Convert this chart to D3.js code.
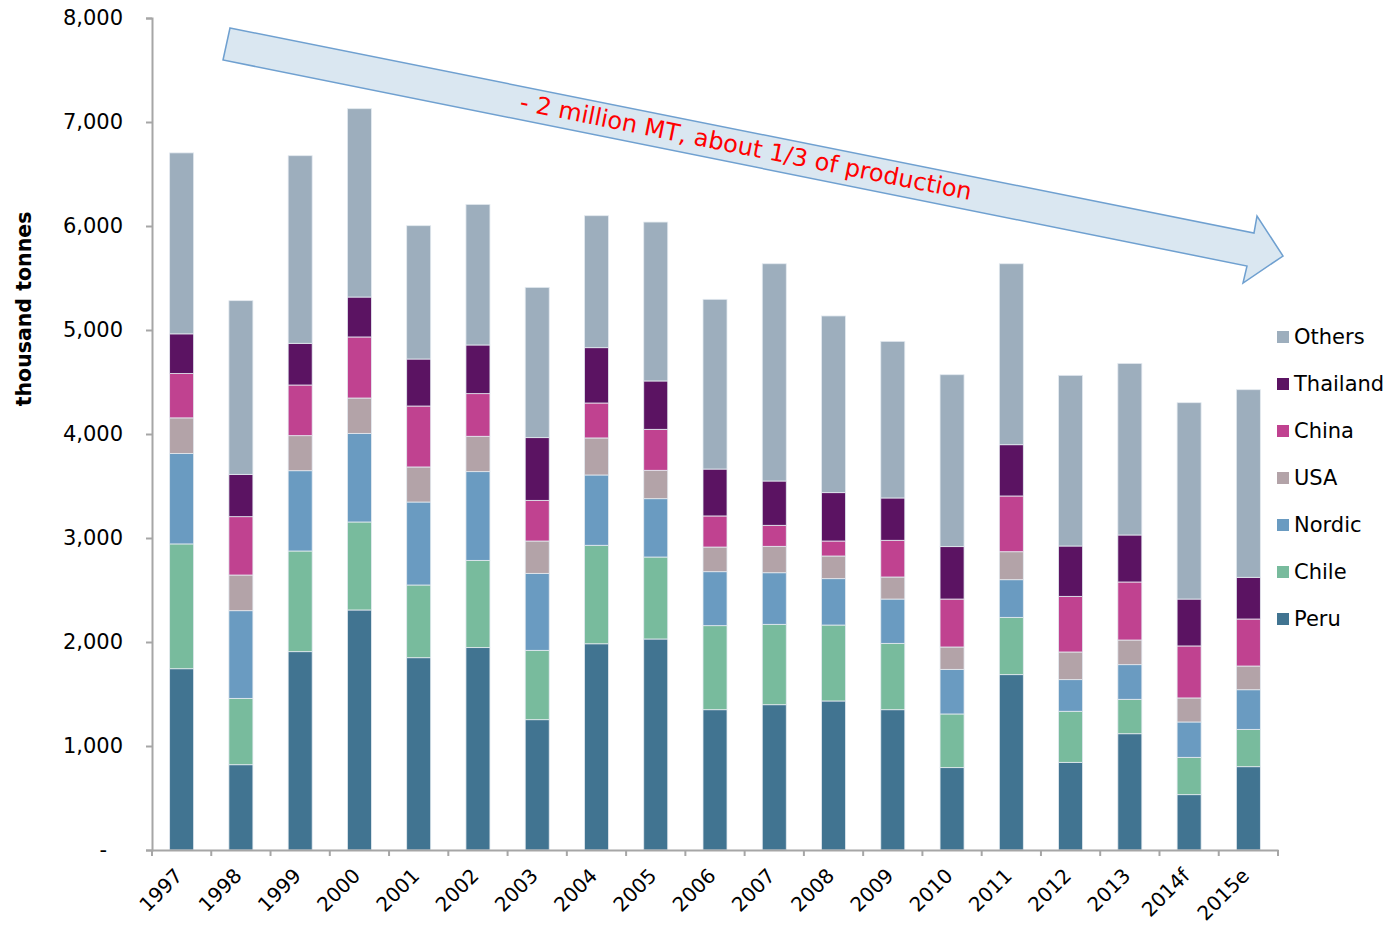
<!DOCTYPE html>
<html>
<head>
<meta charset="utf-8">
<script src="https://cdn.jsdelivr.net/npm/d3@7"></script>
<style>
  html, body { margin: 0; padding: 0; background: #ffffff; }
  svg { display: block; font-family: "DejaVu Sans", Verdana, sans-serif; }
</style>
</head>
<body>
<svg id="chart" width="1400" height="925"></svg>
<script>
const years = ["1997","1998","1999","2000","2001","2002","2003","2004","2005","2006","2007","2008","2009","2010","2011","2012","2013","2014f","2015e"];
const seriesNames = ["Peru","Chile","Nordic","USA","China","Thailand","Others"];
const peru     = [1743, 820, 1907, 2308, 1849, 1946, 1253, 1983, 2029, 1349, 1397, 1433, 1349,  792, 1686,  843, 1118,  532,  801];
const chile    = [1200, 638,  968,  846,  699,  839,  667,  947,  788,  808,  773,  730,  638,  516,  551,  491,  331,  359,  359];
const nordic   = [ 869, 843,  772,  852,  798,  853,  740,  676,  561,  519,  496,  446,  426,  429,  362,  304,  333,  340,  381];
const usa      = [ 343, 343,  337,  340,  337,  340,  311,  356,  273,  237,  254,  218,  212,  215,  269,  266,  237,  231,  228];
const china    = [ 426, 561,  487,  587,  586,  410,  391,  336,  394,  299,  202,  144,  353,  461,  536,  535,  558,  500,  452];
const thailand = [ 382, 407,  401,  384,  452,  468,  603,  532,  465,  451,  426,  465,  407,  504,  493,  484,  452,  451,  401];
const others   = [1740,1670, 1804, 1811, 1282, 1352, 1445, 1269, 1528, 1632, 2089, 1699, 1506, 1653, 1740, 1641, 1650, 1888, 1804];
const colors   = ["#417491","#78bb9d","#6a9bc1","#b3a3a8","#c04290","#5b1362","#9daebd"];
const yTicks   = [0,1000,2000,3000,4000,5000,6000,7000,8000];
const annotation = "- 2 million MT, about 1/3 of production";
const yTitle = "thousand tonnes";

(function () {
const seriesValues = [peru, chile, nordic, usa, china, thailand, others];
const table = years.map((yr, i) => {
  const row = { year: yr };
  seriesNames.forEach((s, k) => row[s] = seriesValues[k][i]);
  return row;
});

const svg = d3.select("#chart");
const mLeft = 152, mRight = 1278, mTop = 18, mBottom = 850;

const x = d3.scaleBand().domain(years).range([mLeft, mRight]).paddingInner(0.595).paddingOuter(0.2975);
const y = d3.scaleLinear().domain([0, 8000]).range([mBottom, mTop]);
const color = d3.scaleOrdinal().domain(seriesNames).range(colors);

const stacked = d3.stack().keys(seriesNames)(table);

// Arrow annotation (behind bars)
const arrowPts = [[230,28],[1254,233],[1257,216],[1283,256],[1243,283],[1247,266],[223,60]];
svg.append("polygon")
  .attr("points", arrowPts.map(p => p.join(",")).join(" "))
  .attr("fill", "#dae7f1")
  .attr("stroke", "#6fa0d0")
  .attr("stroke-width", 1.5);

// Bars
svg.append("g").selectAll("g")
  .data(stacked).join("g")
  .attr("fill", d => color(d.key))
  .selectAll("rect")
  .data(d => d).join("rect")
  .attr("x", d => x(d.data.year))
  .attr("width", x.bandwidth())
  .attr("y", d => y(d[1]))
  .attr("height", d => y(d[0]) - y(d[1]))
  .attr("stroke", "#e4eaf0")
  .attr("stroke-width", 0.8);

// Annotation text
const angle = Math.atan2(233 - 28, 1254 - 230) * 180 / Math.PI;
svg.append("text")
  .attr("transform", `translate(746,147) rotate(${angle})`)
  .attr("text-anchor", "middle")
  .attr("dominant-baseline", "central")
  .attr("fill", "#ff0000")
  .attr("font-size", 24)
  .text(annotation);

// Y axis
const yAxis = d3.axisLeft(y).tickValues(yTicks).tickSize(6).tickPadding(23)
  .tickFormat(d => d === 0 ? "-" : d3.format(",")(d));
const gy = svg.append("g").attr("transform", `translate(${mLeft},0)`).call(yAxis);
gy.select(".domain").attr("stroke", "#a6a6a6").attr("stroke-width", 2);
gy.selectAll(".tick line").attr("stroke", "#a6a6a6").attr("stroke-width", 2);
gy.selectAll(".tick text").attr("font-size", 21).attr("fill", "#000")
  .attr("font-family", "DejaVu Sans, Verdana, sans-serif")
  .attr("dx", d => d === 0 ? -16 : 0);

// X axis
const xAxis = d3.axisBottom(x).tickSize(0).tickPadding(0);
const gx = svg.append("g").attr("transform", `translate(0,${mBottom})`).call(xAxis);
gx.select(".domain").attr("stroke", "#a6a6a6").attr("stroke-width", 2);
gx.selectAll(".tick text")
  .attr("font-size", 20).attr("fill", "#000")
  .attr("font-family", "DejaVu Sans, Verdana, sans-serif")
  .attr("text-anchor", "end")
  .attr("dy", null)
  .attr("y", 0)
  .attr("transform", "translate(2,27) rotate(-45)");
// boundary ticks
const step = x.step();
const edges = years.map(yr => x(yr) - step * x.paddingInner() / 2).concat([mRight]);
gx.append("g").selectAll("line").data(edges).join("line")
  .attr("x1", d => d).attr("x2", d => d)
  .attr("y1", 0).attr("y2", 6)
  .attr("stroke", "#a6a6a6").attr("stroke-width", 2);

// Y title
svg.append("text")
  .attr("transform", "translate(31,309) rotate(-90)")
  .attr("text-anchor", "middle")
  .attr("font-size", 20.5)
  .attr("font-weight", "bold")
  .attr("fill", "#000")
  .text(yTitle);

// Legend (reverse order, Others on top)
const legendItems = seriesNames.slice().reverse();
const legend = svg.append("g").selectAll("g")
  .data(legendItems).join("g")
  .attr("transform", (d, i) => `translate(1277,${337 + i * 47})`);
legend.append("rect")
  .attr("x", 0).attr("y", -6).attr("width", 12).attr("height", 12)
  .attr("fill", d => color(d));
legend.append("text")
  .attr("x", 17).attr("y", 0)
  .attr("dominant-baseline", "central")
  .attr("font-size", 21)
  .attr("fill", "#000")
  .text(d => d);
})();
</script>
</body>
</html>
